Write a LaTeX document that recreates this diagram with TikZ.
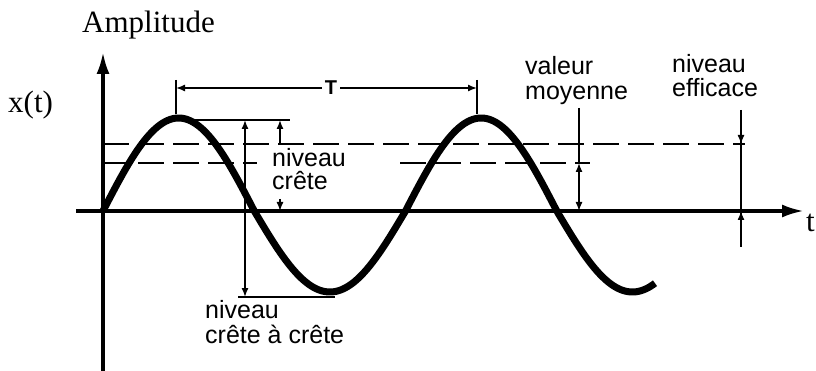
\documentclass[tikz,border=0pt]{standalone}
\usepackage{fontspec}
\setmainfont{Liberation Serif}
\newfontfamily\labelfont{Liberation Sans}
\usetikzlibrary{arrows.meta}
\begin{document}
\begin{tikzpicture}[x=1pt,y=-1pt,
  axis/.style={line width=3.5pt,-{Latex[length=22pt,width=13pt]}},
  wave/.style={line width=7pt,line join=round},
  thin/.style={line width=1.4pt},
  tip/.style={line width=1.4pt,-{Latex[length=9pt,width=7pt]}},
  dimarrow/.style={line width=1.4pt,{Latex[length=9pt,width=7pt]}-{Latex[length=9pt,width=7pt]}},
  lvl/.style={line width=1.4pt,dash pattern=on 26pt off 9pt},
  lab/.style={font=\labelfont\fontsize{25}{24}\selectfont,inner sep=0pt,anchor=base west},
  serif/.style={font=\fontsize{31}{31}\selectfont,inner sep=0pt,anchor=base west},
]
\useasboundingbox (0,0) rectangle (816,371);

% axes
\coordinate (xl) at (76,211);
\coordinate (xr) at (804,211);
\coordinate (yb) at (103,371);
\coordinate (yt) at (103,52);
\draw[axis] (xl) -- (xr);
\draw[axis] (yb) -- (yt);

% levels
\coordinate (rmsA) at (103,144);
\coordinate (rmsB) at (745,144);
\coordinate (avgA) at (103,163);
\coordinate (avgA2) at (257,163);
\coordinate (avgB1) at (400,163);
\coordinate (avgB) at (590,163);
\draw[lvl] (rmsA) -- (rmsB);
\draw[lvl] (avgA) -- (avgA2);
\draw[lvl] (avgB1) -- (avgB);

% wave
\draw[wave] plot[domain=0:552,samples=240]
  ({103+\x},{211-(87*sin(1.19*\x)+6*abs(sin(1.19*\x)))});

% period T
\coordinate (p1a) at (176,80);
\coordinate (p1b) at (176,114);
\coordinate (p2a) at (477,80);
\coordinate (p2b) at (477,114);
\coordinate (p1m) at (176,88);
\coordinate (p2m) at (477,88);
\draw[thin] (p1a) -- (p1b);
\draw[thin] (p2a) -- (p2b);
\node[font=\labelfont\bfseries\fontsize{20}{20}\selectfont,inner sep=3pt] (T) at (331,88) {T};
\draw[tip] (T.west) -- (p1m);
\draw[tip] (T.east) -- (p2m);

% peak line and peak-to-peak
\coordinate (pkA) at (178,120);
\coordinate (pkB) at (290,120);
\draw[thin] (pkA) -- (pkB);
\coordinate (trA) at (238,297);
\coordinate (trB) at (335,297);
\draw[thin] (trA) -- (trB);
\coordinate (ppT) at (245,120);
\coordinate (ppB) at (245,297);
\draw[dimarrow] (ppT) -- (ppB);

% peak level
\coordinate (pcT) at (280,120);
\coordinate (pcTs) at (280,144);
\coordinate (pcB) at (280,211);
\coordinate (pcBs) at (280,199);
\draw[tip] (pcTs) -- (pcT);
\draw[tip] (pcBs) -- (pcB);

% mean value
\coordinate (mvT) at (579,108);
\coordinate (mvM) at (579,163);
\coordinate (mvB) at (579,211);
\draw[thin] (mvT) -- (mvM);
\draw[dimarrow] (mvM) -- (mvB);

% rms
\coordinate (efT) at (741,110);
\coordinate (efB) at (741,247);
\coordinate (efa1) at (741,126);
\coordinate (efa2) at (741,144);
\coordinate (efb1) at (741,229);
\coordinate (efb2) at (741,211);
\draw[thin] (efT) -- (efB);
\draw[tip] (efa1) -- (efa2);
\draw[tip] (efb1) -- (efb2);

% texts
\node[serif] (amp) at (82,33) {Amplitude};
\node[serif] (xt) at (8,113) {x(t)};
\node[serif] (tt) at (806,232) {t};
\node[lab] (vm1) at (525,75) {valeur};
\node[lab] (vm2) at (525,100) {moyenne};
\node[lab] (nc1) at (272,167) {niveau};
\node[lab] (nc2) at (272,190) {crête};
\node[lab] (cc1) at (205,318) {niveau};
\node[lab] (cc2) at (205,343) {crête à crête};
\node[lab] (ne1) at (672,73) {niveau};
\node[lab] (ne2) at (672,97) {efficace};
\end{tikzpicture}
\end{document}
